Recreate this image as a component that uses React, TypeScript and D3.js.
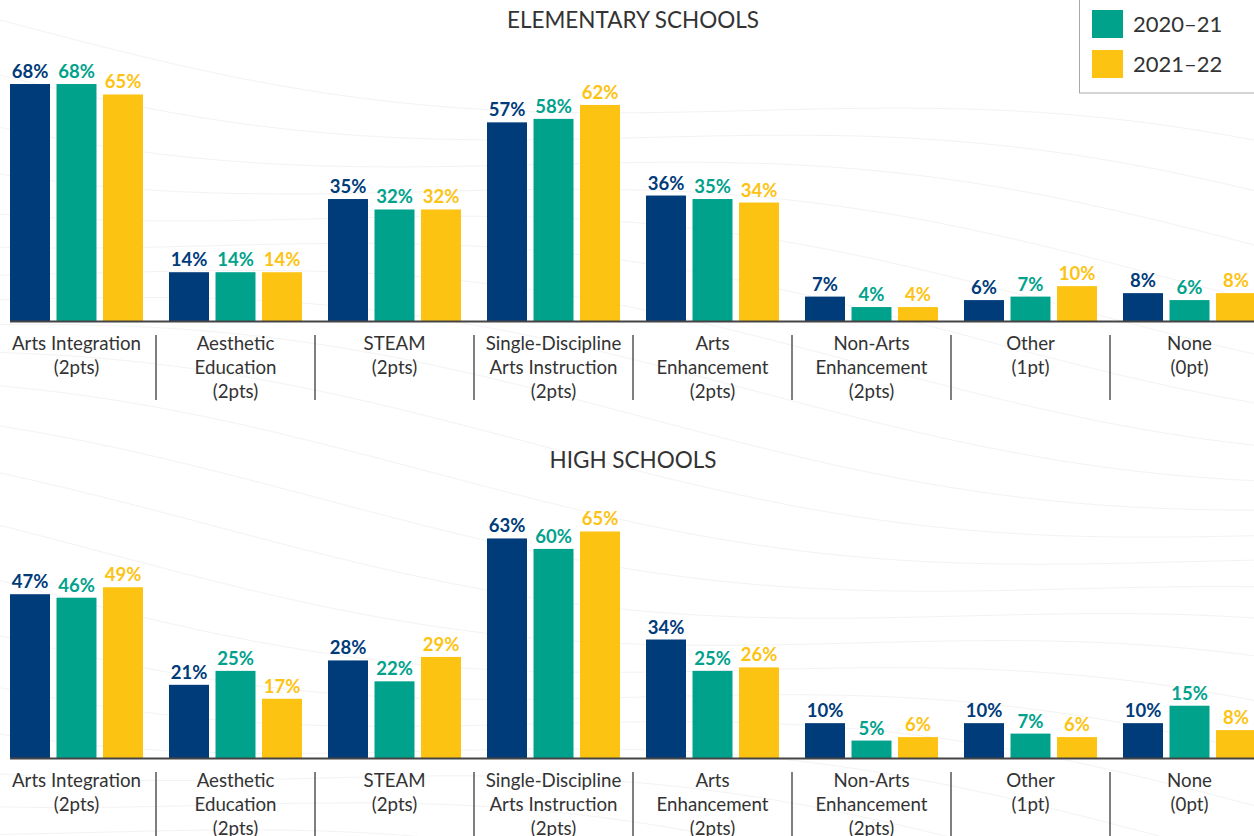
import React from "react";
import * as d3 from "d3";

const categories = [
  ["Arts Integration", "(2pts)"],
  ["Aesthetic", "Education", "(2pts)"],
  ["STEAM", "(2pts)"],
  ["Single-Discipline", "Arts Instruction", "(2pts)"],
  ["Arts", "Enhancement", "(2pts)"],
  ["Non-Arts", "Enhancement", "(2pts)"],
  ["Other", "(1pt)"],
  ["None", "(0pt)"],
];
const seriesNames = ["2019–20", "2020–21", "2021–22"];
const seriesColors = ["#003B7A", "#00A28C", "#FDC313"];

const elementary2019 = [68, 14, 35, 57, 36, 7, 6, 8];
const elementary2020 = [68, 14, 32, 58, 35, 4, 7, 6];
const elementary2021 = [65, 14, 32, 62, 34, 4, 10, 8];

const high2019 = [47, 21, 28, 63, 34, 10, 10, 10];
const high2020 = [46, 25, 22, 60, 25, 5, 7, 15];
const high2021 = [49, 17, 29, 65, 26, 6, 6, 8];

const legendShown = [1, 2];

const W = 1254;
const H = 836;
const FONT = "Lato, 'Open Sans', sans-serif";

const panels = [
  { title: "ELEMENTARY SCHOOLS", titleY: 28, base: 321, data: [elementary2019, elementary2020, elementary2021], divBottom: 400 },
  { title: "HIGH SCHOOLS", titleY: 468, base: 758, data: [high2019, high2020, high2021], divBottom: 840 },
];

export default function App() {
  const idx = categories.map((_, i) => String(i));
  const x0 = d3.scaleBand<string>().domain(idx).range([-3, 1269]);
  const x1 = d3.scaleBand<string>().domain(seriesNames).range([13, 146]).paddingInner(0.14);
  const pxPerPct = 3.485;

  const waves = d3.range(22).map((k) => {
    const pts = d3.range(0, W + 40, 40).map((x) => [
      x,
      20 + k * 40 + 35 * Math.sin(x / 240 + k * 0.45) + 0.12 * x,
    ] as [number, number]);
    return d3.line().curve(d3.curveBasis)(pts) || "";
  });

  return (
    <svg width={W} height={H} style={{ position: "absolute", left: 0, top: 0, background: "#fff" }} fontFamily={FONT}>
      <rect x={0} y={0} width={W} height={H} fill="#fff" />
      {waves.map((d, i) => (
        <path key={i} d={d} fill="none" stroke="#f3f3f3" strokeWidth={1} />
      ))}
      {panels.map((p, pi) => {
        const y = d3.scaleLinear().domain([0, 100]).range([p.base, p.base - 100 * pxPerPct]);
        return (
          <g key={pi}>
            <text x={633} y={p.titleY} textAnchor="middle" fontSize={22.5} fill="#333">
              {p.title}
            </text>
            {p.data.map((vals, si) =>
              vals.map((v, ci) => {
                const bx = (x0(String(ci)) ?? 0) + (x1(seriesNames[si]) ?? 0);
                return (
                  <g key={`${si}-${ci}`}>
                    <rect x={bx} y={y(v)} width={x1.bandwidth()} height={p.base - y(v)} fill={seriesColors[si]} />
                    <text
                      x={bx + x1.bandwidth() / 2}
                      y={y(v) - 6}
                      textAnchor="middle"
                      fontSize={18.5}
                      fontWeight="bold"
                      fill={seriesColors[si]}
                    >
                      {v}%
                    </text>
                  </g>
                );
              })
            )}
            <line x1={10} x2={W} y1={p.base + 0.5} y2={p.base + 0.5} stroke="#444" strokeWidth={2} />
            {categories.map((lines, ci) => {
              const cx = (x0(String(ci)) ?? 0) + x0.bandwidth() / 2;
              return (
                <g key={ci}>
                  {ci > 0 && (
                    <line
                      x1={x0(String(ci)) ?? 0}
                      x2={x0(String(ci)) ?? 0}
                      y1={p.base + 14}
                      y2={p.divBottom}
                      stroke="#555"
                      strokeWidth={1.5}
                    />
                  )}
                  {lines.map((t, li) => (
                    <text key={li} x={cx} y={p.base + 29 + li * 24} textAnchor="middle" fontSize={18.7} fill="#333">
                      {t}
                    </text>
                  ))}
                </g>
              );
            })}
          </g>
        );
      })}
      <g>
        <rect x={1079.5} y={-40} width={190} height={133} fill="#fff" stroke="#aaa" strokeWidth={1} />
        {legendShown.map((si, i) => (
          <g key={si}>
            <rect x={1092} y={10 + i * 40} width={31} height={28} fill={seriesColors[si]} />
            <text x={1133} y={32 + i * 40} fontSize={22} fill="#333">
              {seriesNames[si]}
            </text>
          </g>
        ))}
      </g>
    </svg>
  );
}
